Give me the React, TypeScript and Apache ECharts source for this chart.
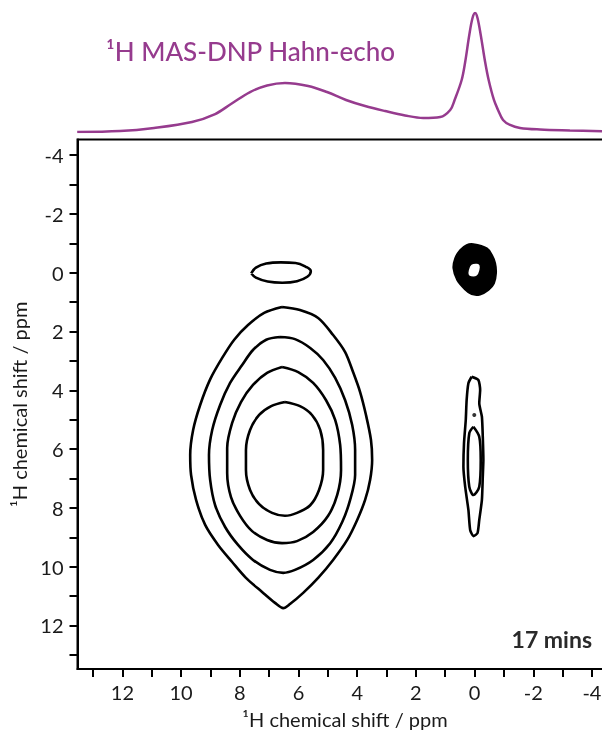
import React, { useEffect, useRef } from "react";
import * as echarts from "echarts";

// Axis ticks / labels (ppm)
const xTicks = [-4, -3, -2, -1, 0, 1, 2, 3, 4, 5, 6, 7, 8, 9, 10, 11, 12, 13];
const xLabels = [-4, -2, 0, 2, 4, 6, 8, 10, 12];
const yTicks = [-4, -3, -2, -1, 0, 1, 2, 3, 4, 5, 6, 7, 8, 9, 10, 11, 12, 13];
const yLabels = [-4, -2, 0, 2, 4, 6, 8, 10, 12];

// 1D projection (1H MAS-DNP Hahn-echo)
const specPpm = [13.54, 12.08, 10.92, 9.63, 8.84, 8.3, 7.65, 7.07, 6.46, 5.67, 5.03, 4.38, 3.73, 3.05, 2.37, 1.75, 1.17, 0.83, 0.68, 0.44, 0.32, 0.18, 0.07, -0.02, -0.1, -0.21, -0.36, -0.48, -0.66, -0.8, -0.97, -1.21, -1.55, -2.23, -3.25, -4.38];
const specIntensity = [0.0, 0.008, 0.034, 0.084, 0.151, 0.235, 0.336, 0.391, 0.412, 0.387, 0.336, 0.269, 0.218, 0.176, 0.139, 0.118, 0.126, 0.185, 0.269, 0.437, 0.588, 0.815, 0.958, 1.0, 0.958, 0.815, 0.588, 0.437, 0.269, 0.185, 0.101, 0.059, 0.034, 0.021, 0.013, 0.006];

// Contours of the broad peak (x ppm, y ppm)
const broad1 = [[6.56, 1.17], [5.95, 1.27], [5.33, 1.54], [4.82, 2.12], [4.41, 2.7], [4.14, 3.38], [3.9, 4.06], [3.7, 4.84], [3.53, 5.69], [3.49, 6.37], [3.56, 7.05], [3.73, 7.73], [4.0, 8.41], [4.34, 9.09], [4.82, 9.77], [5.33, 10.38], [5.84, 10.89], [6.29, 11.27], [6.52, 11.41], [6.8, 11.23], [7.24, 10.86], [7.79, 10.38], [8.26, 9.84], [8.74, 9.26], [9.18, 8.58], [9.49, 7.73], [9.66, 6.88], [9.69, 6.2], [9.59, 5.35], [9.35, 4.5], [9.01, 3.63], [8.6, 2.9], [8.19, 2.28], [7.72, 1.78], [7.17, 1.37]];
const broad2 = [[6.63, 2.19], [6.12, 2.26], [5.6, 2.56], [5.16, 2.97], [4.75, 3.58], [4.41, 4.34], [4.17, 5.18], [4.07, 6.03], [4.07, 6.88], [4.24, 7.73], [4.51, 8.48], [4.92, 9.2], [5.5, 9.77], [6.12, 10.11], [6.52, 10.21], [6.97, 10.11], [7.55, 9.77], [8.06, 9.26], [8.5, 8.65], [8.84, 7.91], [9.01, 7.05], [9.05, 6.2], [8.94, 5.35], [8.67, 4.5], [8.33, 3.75], [7.92, 3.14], [7.55, 2.63], [7.1, 2.28]];
const broad3 = [[6.56, 3.21], [6.01, 3.38], [5.5, 3.75], [5.06, 4.34], [4.75, 5.01], [4.58, 5.86], [4.55, 6.71], [4.68, 7.56], [4.99, 8.27], [5.5, 8.82], [6.05, 9.13], [6.56, 9.2], [7.07, 9.09], [7.58, 8.79], [7.99, 8.27], [8.3, 7.63], [8.43, 6.81], [8.43, 5.96], [8.26, 5.11], [7.96, 4.4], [7.55, 3.82], [7.07, 3.41]];
const broad4 = [[6.46, 4.4], [5.95, 4.54], [5.54, 4.84], [5.26, 5.35], [5.16, 6.03], [5.16, 6.71], [5.3, 7.39], [5.6, 7.91], [6.05, 8.17], [6.46, 8.27], [6.9, 8.17], [7.34, 7.87], [7.65, 7.39], [7.79, 6.71], [7.79, 6.03], [7.65, 5.35], [7.34, 4.84], [6.93, 4.54]];

// Cross peak at (6.6, 0)
const crossPeak = [[7.61, 0.02], [7.45, -0.17], [7.1, -0.31], [6.6, -0.35], [6.1, -0.33], [5.75, -0.2], [5.58, -0.05], [5.7, 0.14], [6.05, 0.29], [6.55, 0.34], [7.05, 0.3], [7.45, 0.17]];

// Narrow peak contours at x ≈ 0
const narrowOuter = [[0.1, 3.54], [-0.13, 3.65], [-0.19, 3.99], [-0.16, 4.44], [-0.25, 4.9], [-0.28, 5.58], [-0.3, 6.37], [-0.28, 6.94], [-0.25, 7.73], [-0.16, 8.41], [-0.1, 8.86], [0.04, 8.96], [0.15, 8.75], [0.21, 8.07], [0.32, 7.28], [0.38, 6.6], [0.36, 5.8], [0.3, 5.01], [0.27, 4.33], [0.21, 3.76]];
const narrowInner = [[0.04, 5.24], [-0.16, 5.58], [-0.21, 6.37], [-0.16, 7.28], [0.04, 7.56], [0.18, 7.28], [0.23, 6.37], [0.18, 5.46]];
const narrowDot = [[0.01, 4.84]];

// Dense diagonal peak at (0, 0): outer boundary and inner hole
const blobCenter = [-0.02, -0.12];
const blobOuter = [[0.04, -0.97], [-0.42, -0.83], [-0.59, -0.6], [-0.7, -0.32], [-0.73, 0.02], [-0.66, 0.36], [-0.47, 0.59], [-0.19, 0.74], [0.1, 0.73], [0.32, 0.57], [0.59, 0.25], [0.72, -0.15], [0.66, -0.49], [0.49, -0.77], [0.27, -0.94]];
const blobHole = [[-0.09, -0.33], [-0.19, -0.26], [-0.19, -0.09], [-0.09, 0.12], [0.12, 0.15], [0.22, 0.08], [0.22, -0.09], [0.12, -0.29]];

const FONT = "Lato, 'Open Sans', sans-serif";
const PURPLE = "#963b8e";

export default function App() {
  const ref = useRef<HTMLDivElement>(null);

  useEffect(() => {
    if (!ref.current) return;
    const chart = echarts.init(ref.current, null, { renderer: "svg" });

    const close = (pts: number[][]) => [...pts, pts[0]];
    const contour = (pts: number[][], smooth = 0.3) => ({
      type: "line",
      xAxisIndex: 0,
      yAxisIndex: 0,
      data: close(pts),
      symbol: "none",
      smooth,
      silent: true,
      lineStyle: { color: "#000", width: 2.6 },
      z: 3,
    });

    const gridLeft = 77.5;
    const gridWidth = 535;

    const option: any = {
      animation: false,
      textStyle: { fontFamily: FONT },
      grid: [
        {
          left: gridLeft,
          width: gridWidth,
          top: 139.5,
          height: 529.5,
          show: true,
          borderColor: "#000",
          borderWidth: 2,
          backgroundColor: "transparent",
          containLabel: false,
          outerBoundsMode: "none",
        },
        {
          left: gridLeft,
          width: gridWidth,
          top: 13,
          height: 119,
          show: false,
          containLabel: false,
          outerBoundsMode: "none",
        },
      ],
      xAxis: [
        {
          type: "value",
          gridIndex: 0,
          min: -4.7,
          max: 13.53,
          inverse: true,
          splitLine: { show: false },
          axisLine: { show: true, onZero: false, lineStyle: { color: "#000", width: 2 } },
          axisTick: {
            show: true,
            customValues: xTicks,
            length: 8,
            lineStyle: { color: "#000", width: 2 },
          },
          axisLabel: {
            customValues: xLabels,
            formatter: (v: number) => String(v),
            color: "#1a1a1a",
            fontSize: 20,
            margin: 13,
            fontFamily: FONT,
          },
          name: "¹H chemical shift / ppm",
          nameLocation: "middle",
          nameGap: 40,
          nameTextStyle: { fontSize: 20, color: "#1a1a1a", fontFamily: FONT },
        },
        {
          type: "value",
          gridIndex: 1,
          min: -4.7,
          max: 13.53,
          inverse: true,
          show: false,
        },
      ],
      yAxis: [
        {
          type: "value",
          gridIndex: 0,
          min: -4.53,
          max: 13.48,
          inverse: true,
          splitLine: { show: false },
          axisLine: { show: true, onZero: false, lineStyle: { color: "#000", width: 2 } },
          axisTick: {
            show: true,
            customValues: yTicks,
            length: 8,
            lineStyle: { color: "#000", width: 2 },
          },
          axisLabel: {
            customValues: yLabels,
            formatter: (v: number) => String(v),
            color: "#1a1a1a",
            fontSize: 20,
            margin: 14,
            fontFamily: FONT,
          },
          name: "¹H chemical shift / ppm",
          nameLocation: "middle",
          nameGap: 33,
          nameTextStyle: { fontSize: 20, color: "#1a1a1a", fontFamily: FONT },
        },
        { type: "value", gridIndex: 1, min: 0, max: 1, show: false },
      ],
      graphic: [
        {
          type: "text",
          left: 106,
          top: 38,
          style: {
            text: "¹H MAS-DNP Hahn-echo",
            fill: PURPLE,
            font: `500 26px ${FONT}`,
          },
        },
        {
          type: "text",
          right: 10,
          top: 627,
          style: {
            text: "17 mins",
            fill: "#2a2a2a",
            font: `bold 23px ${FONT}`,
          },
        },
      ],
      series: [
        {
          type: "line",
          xAxisIndex: 1,
          yAxisIndex: 1,
          data: specPpm.map((p, i) => [p, specIntensity[i]]),
          symbol: "none",
          smooth: 0.35,
          silent: true,
          lineStyle: { color: PURPLE, width: 2.5 },
        },
        contour(broad1),
        contour(broad2),
        contour(broad3),
        contour(broad4),
        contour(crossPeak, 0.4),
        contour(narrowOuter, 0.2),
        contour(narrowInner, 0.3),
        {
          type: "scatter",
          xAxisIndex: 0,
          yAxisIndex: 0,
          data: narrowDot,
          symbol: "circle",
          symbolSize: 4,
          itemStyle: { color: "#000" },
          silent: true,
        },
        {
          type: "custom",
          xAxisIndex: 0,
          yAxisIndex: 0,
          data: [blobCenter],
          silent: true,
          renderItem: (_params: any, api: any) => ({
            type: "group",
            children: [
              {
                type: "polygon",
                shape: { points: blobOuter.map((p) => api.coord(p)), smooth: 0.35 },
                style: { fill: "#000", stroke: "#000", lineWidth: 2 },
              },
              {
                type: "polygon",
                shape: { points: blobHole.map((p) => api.coord(p)), smooth: 0.4 },
                style: { fill: "#fff", stroke: "#000", lineWidth: 1.5 },
              },
            ],
          }),
        },
      ],
    };

    chart.setOption(option);
    return () => chart.dispose();
  }, []);

  return (
    <div
      ref={ref}
      style={{ position: "fixed", left: 0, top: 0, width: 602, height: 732 }}
    />
  );
}
